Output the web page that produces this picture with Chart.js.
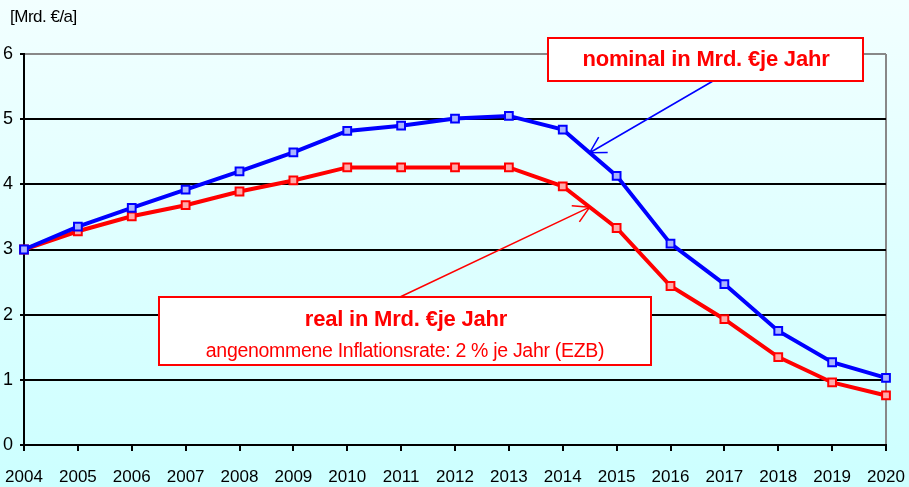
<!DOCTYPE html>
<html>
<head>
<meta charset="utf-8">
<script src="https://cdn.jsdelivr.net/npm/chart.js@4"></script>
<style>
  body { margin: 0; background: #ccffff; }
  canvas { display: block; }
</style>
</head>
<body>
<canvas id="lineChart" width="909" height="487"></canvas>
<script>
const years = ['2004', '2005', '2006', '2007', '2008', '2009', '2010', '2011', '2012',
  '2013', '2014', '2015', '2016', '2017', '2018', '2019', '2020'];
const nominal = [3.0, 3.35, 3.64, 3.92, 4.20, 4.49, 4.82, 4.90, 5.01, 5.05, 4.84, 4.13, 3.09, 2.47, 1.75, 1.27, 1.03];
const real = [3.0, 3.28, 3.51, 3.68, 3.89, 4.06, 4.26, 4.26, 4.26, 4.26, 3.97, 3.33, 2.44, 1.93, 1.35, 0.96, 0.76];
const yTicks = [0, 1, 2, 3, 4, 5, 6];
const unitLabel = '[Mrd. €/a]';
const nominalNote = 'nominal in Mrd. €je Jahr';
const realNote = 'real in Mrd. €je Jahr';
const realSubNote = 'angenommene Inflationsrate: 2 % je Jahr (EZB)';

const FONT = "'Liberation Sans', Arial, sans-serif";

// light cyan gradient behind everything
const backdrop = {
  id: 'backdrop',
  beforeDraw(chart) {
    const ctx = chart.ctx;
    const g = ctx.createLinearGradient(0, 0, 0, chart.height);
    g.addColorStop(0, '#f2ffff');
    g.addColorStop(1, '#ccffff');
    ctx.save();
    ctx.fillStyle = g;
    ctx.fillRect(0, 0, chart.width, chart.height);
    ctx.fillStyle = '#000';
    ctx.font = '17px ' + FONT;
    ctx.letterSpacing = '-0.5px';
    ctx.textBaseline = 'middle';
    ctx.fillText(unitLabel, 10, 17);
    ctx.restore();
  }
};

function arrow(ctx, x1, y1, x2, y2, color) {
  const a = Math.atan2(y1 - y2, x1 - x2);
  const len = 18, spread = 0.52;
  ctx.strokeStyle = color;
  ctx.lineWidth = 1.5;
  ctx.beginPath();
  ctx.moveTo(x1, y1);
  ctx.lineTo(x2, y2);
  ctx.moveTo(x2 + len * Math.cos(a - spread), y2 + len * Math.sin(a - spread));
  ctx.lineTo(x2, y2);
  ctx.lineTo(x2 + len * Math.cos(a + spread), y2 + len * Math.sin(a + spread));
  ctx.stroke();
}

function box(ctx, x, y, w, h) {
  ctx.fillStyle = '#fff';
  ctx.fillRect(x, y, w, h);
  ctx.strokeStyle = '#ff0000';
  ctx.lineWidth = 2;
  ctx.strokeRect(x, y, w, h);
}

const notes = {
  id: 'notes',
  afterDatasetsDraw(chart) {
    const ctx = chart.ctx;
    const i = years.indexOf('2014');
    const mid = (pts) => ({ x: (pts[i].x + pts[i + 1].x) / 2, y: (pts[i].y + pts[i + 1].y) / 2 });
    const b = mid(chart.getDatasetMeta(0).data);
    const r = mid(chart.getDatasetMeta(1).data);
    ctx.save();
    arrow(ctx, 713, 81, b.x, b.y, '#0000ff');
    arrow(ctx, 400, 297, r.x, r.y, '#ff0000');

    box(ctx, 548, 38, 315, 43);
    box(ctx, 159, 297, 492, 68);

    ctx.fillStyle = '#ff0000';
    ctx.textAlign = 'center';
    ctx.textBaseline = 'middle';
    ctx.letterSpacing = '-0.2px';
    ctx.font = 'bold 22px ' + FONT;
    ctx.fillText(nominalNote, 706, 60);
    ctx.fillText(realNote, 406, 320);
    ctx.letterSpacing = '-0.3px';
    ctx.font = '19.5px ' + FONT;
    ctx.fillText(realSubNote, 405, 352);
    ctx.restore();
  }
};

new Chart(document.getElementById('lineChart'), {
  type: 'line',
  data: {
    labels: years,
    datasets: [
      {
        label: 'nominal',
        data: nominal,
        borderColor: '#0000ff',
        borderWidth: 4,
        pointStyle: 'rect',
        pointRadius: 5.5,
        pointBorderWidth: 2,
        pointBorderColor: '#0000ff',
        pointBackgroundColor: '#aab4ff',
        tension: 0
      },
      {
        label: 'real',
        data: real,
        borderColor: '#ff0000',
        borderWidth: 4,
        pointStyle: 'rect',
        pointRadius: 5.5,
        pointBorderWidth: 2,
        pointBorderColor: '#ff0000',
        pointBackgroundColor: '#ffaaaa',
        tension: 0
      }
    ]
  },
  options: {
    responsive: false,
    animation: false,
    layout: { padding: { top: 54, right: 23, left: 0, bottom: 0 } },
    plugins: {
      legend: { display: false },
      tooltip: { enabled: false }
    },
    scales: {
      x: {
        offset: false,
        afterFit: (s) => {
          s.height = 42;
          s.paddingLeft = 0;
          s.paddingRight = 0;
        },
        grid: {
          color: (c) => c.index === years.length - 1 ? '#888' : 'rgba(0,0,0,0)',
          lineWidth: 2,
          tickColor: '#000',
          tickLength: 6
        },
        border: { color: '#000', width: 2 },
        ticks: {
          color: '#000',
          font: { family: FONT, size: 17 },
          padding: 16,
          maxRotation: 0,
          autoSkip: false
        }
      },
      y: {
        min: 0,
        max: 6,
        afterFit: (s) => {
          s.width = 24;
          s.paddingTop = 0;
          s.paddingBottom = 0;
        },
        afterBuildTicks: (s) => { s.ticks = yTicks.map(v => ({ value: v })); },
        grid: {
          color: (c) => c.tick && c.tick.value === 6 ? '#888' : '#000',
          lineWidth: 2,
          tickColor: '#000',
          tickLength: 4
        },
        border: { color: '#000', width: 2 },
        ticks: {
          color: '#000',
          font: { family: FONT, size: 18 },
          padding: 7
        }
      }
    }
  },
  plugins: [backdrop, notes]
});
</script>
</body>
</html>
